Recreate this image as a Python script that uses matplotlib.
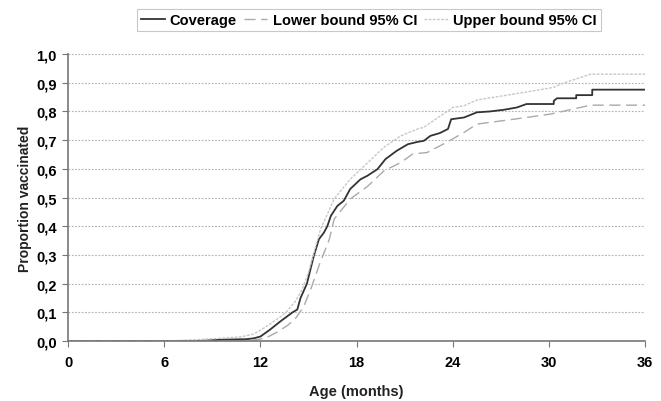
import matplotlib.pyplot as plt
import numpy as np

# age in months and proportion vaccinated
cov_age = [0, 8.0, 8.9, 9.7, 10.5, 11.2, 11.6, 12.0, 12.6, 13.25, 14.0, 14.3, 14.5, 14.9,
           15.33, 15.65, 15.96, 16.17, 16.4, 16.8, 17.2, 17.6, 18.25, 18.67, 19.3, 19.8,
           20.5, 21.2, 21.8, 22.2, 22.6, 23.2, 23.7, 23.9, 24.7, 25.5, 26.3, 27.2, 28.0,
           28.6, 30.3, 30.3, 30.5, 31.7, 31.7, 32.7, 32.7, 36.0]
coverage = [0, 0.0, 0.003, 0.005, 0.006, 0.007, 0.01, 0.016, 0.04, 0.069, 0.10, 0.11, 0.15, 0.20,
            0.297, 0.355, 0.378, 0.40, 0.437, 0.471, 0.489, 0.53, 0.564, 0.576, 0.599, 0.634,
            0.663, 0.686, 0.694, 0.698, 0.715, 0.725, 0.739, 0.773, 0.779, 0.797, 0.80, 0.806, 0.814,
            0.826, 0.826, 0.837, 0.846, 0.846, 0.857, 0.857, 0.876, 0.876]

low_age = [0, 10.0, 11.5, 12.3, 13.0, 13.7, 14.2, 14.7, 15.2, 15.7, 16.3, 16.6, 17.6, 18.7,
           19.7, 20.75, 21.5, 22.4, 23.6, 24.7, 25.5, 27.8, 30.1, 32.6, 36.0]
lower = [0, 0.0, 0.003, 0.01, 0.03, 0.055, 0.08, 0.12, 0.19, 0.27, 0.355, 0.425, 0.495, 0.54,
         0.593, 0.622, 0.652, 0.657, 0.692, 0.727, 0.756, 0.773, 0.791, 0.822, 0.822]

up_age = [0, 6.0, 8.0, 9.5, 10.8, 11.6, 12.2, 13.0, 13.6, 14.2, 14.6, 15.0, 15.4, 15.75,
          16.6, 17.6, 18.7, 19.7, 20.75, 21.8, 22.2, 24.0, 24.7, 25.5, 28.4, 30.3, 30.7,
          32.6, 36.0]
upper = [0, 0.0, 0.005, 0.01, 0.015, 0.025, 0.045, 0.075, 0.10, 0.14, 0.18, 0.24, 0.32, 0.39,
         0.495, 0.564, 0.622, 0.675, 0.715, 0.739, 0.745, 0.814, 0.82, 0.84, 0.866, 0.884, 0.895,
         0.93, 0.93]

xticks = [0, 6, 12, 18, 24, 30, 36]
yticks = np.round(np.arange(0, 1.01, 0.1), 1)

plt.rcParams['font.family'] = ['Liberation Sans', 'DejaVu Sans']
plt.rcParams['font.weight'] = 'bold'

fig = plt.figure(figsize=(6.61, 4.02), dpi=100)
ax = fig.add_axes([0.103, 0.149, 0.873, 0.714])

ax.plot(cov_age, coverage, color='#333333', lw=1.3, label='Coverage')
ax.plot(low_age, lower, color='#aaaaaa', lw=1.0, ls=(0, (8, 4)), label='Lower bound 95% CI')
ax.plot(up_age, upper, color='#c8c8c8', lw=1.0, ls=(0, (2, 1)), label='Upper bound 95% CI')

ax.set_xlim(0, 36)
ax.set_ylim(0, 1.0)
ax.set_xticks(xticks)
ax.set_yticks(yticks)
ax.set_yticklabels([('%.1f' % v).replace('.', ',') for v in yticks])
ax.yaxis.grid(True, ls=(0, (1.5, 1.5)), color='#b0b0b0', lw=0.8)
ax.set_axisbelow(True)
for s in ['top', 'right']:
    ax.spines[s].set_visible(False)
for s in ['left', 'bottom']:
    ax.spines[s].set_color('#777777')
    ax.spines[s].set_linewidth(1.2)
ax.tick_params(axis='x', length=4, color='#777777', pad=6, labelsize=10.5)
ax.tick_params(axis='y', length=4, color='#777777', pad=4, labelsize=10.5)

ax.set_xlabel('Age (months)', fontsize=10.5, fontweight='bold', labelpad=11, color='#222222')
ax.set_ylabel('Proportion vaccinated', fontsize=10, fontweight='bold', labelpad=3, color='#222222')

leg = fig.legend(loc='center', bbox_to_anchor=(0.558, 0.948), ncol=3, frameon=True,
                 fancybox=False, fontsize=10.5, handlelength=1.6, columnspacing=0.5,
                 handletextpad=0.35, borderpad=0.3, borderaxespad=0.1, edgecolor='#bbbbbb')
leg.get_frame().set_linewidth(0.8)

fig.savefig('out.png', dpi=100)
